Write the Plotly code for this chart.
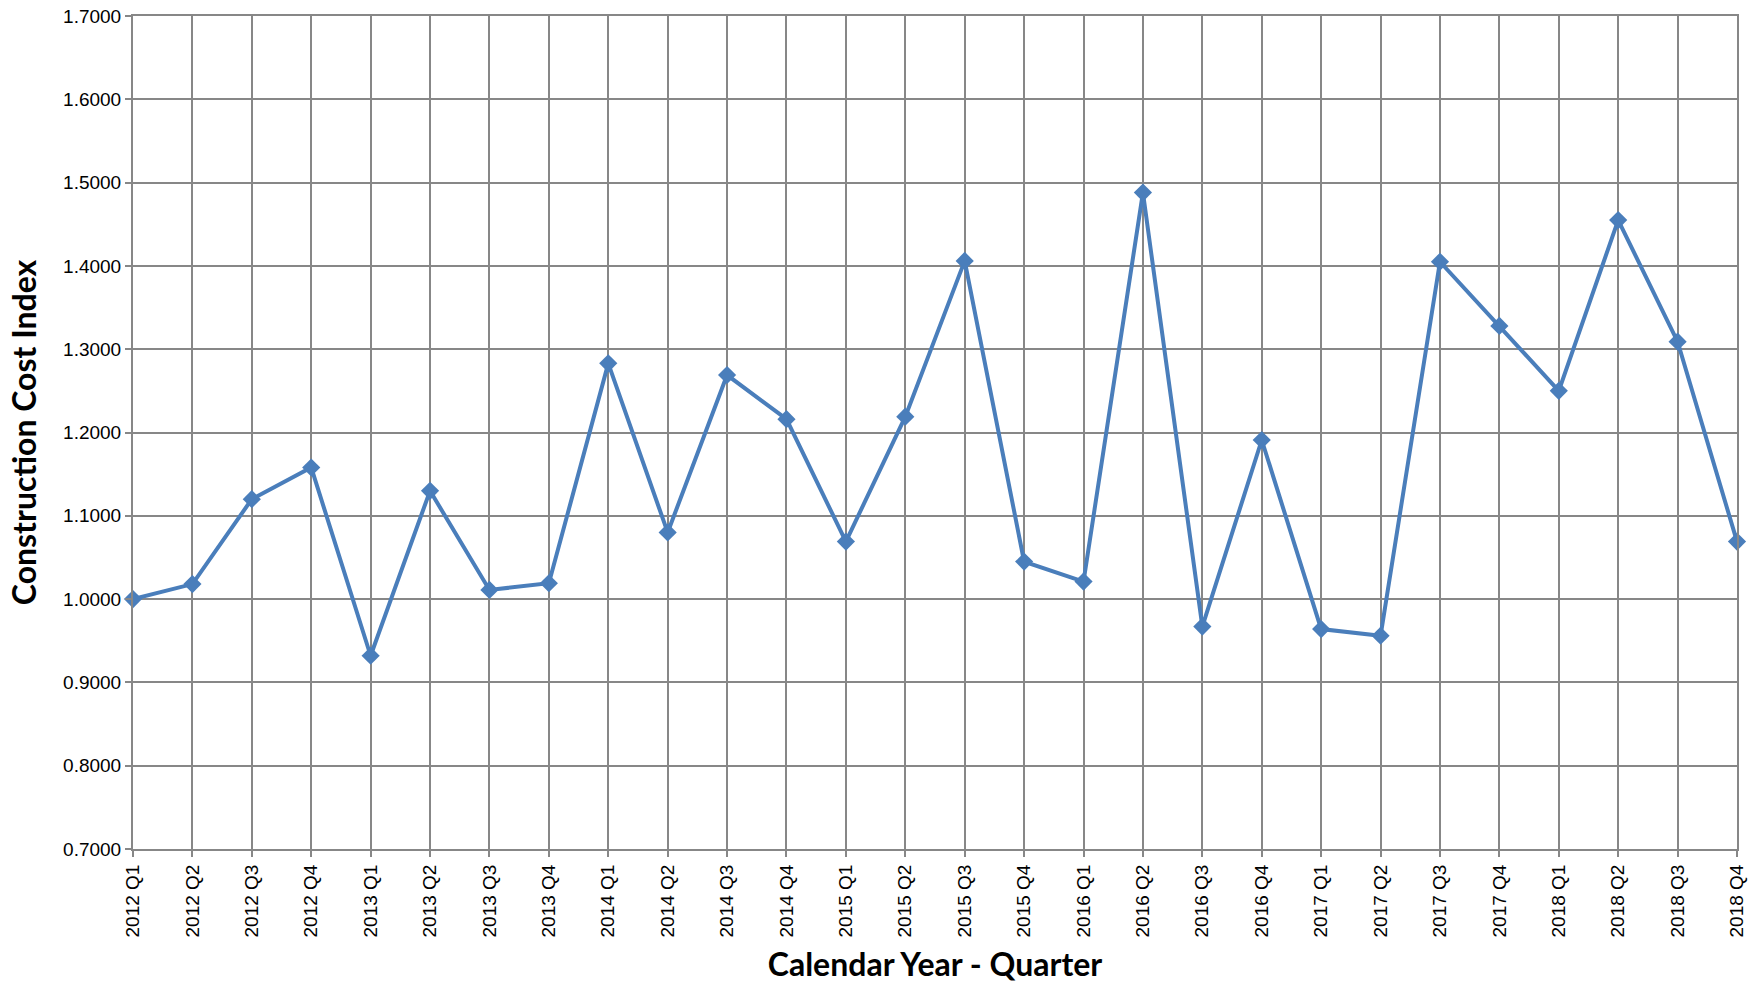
import plotly.graph_objects as go

quarters = ["2012 Q1", "2012 Q2", "2012 Q3", "2012 Q4",
            "2013 Q1", "2013 Q2", "2013 Q3", "2013 Q4",
            "2014 Q1", "2014 Q2", "2014 Q3", "2014 Q4",
            "2015 Q1", "2015 Q2", "2015 Q3", "2015 Q4",
            "2016 Q1", "2016 Q2", "2016 Q3", "2016 Q4",
            "2017 Q1", "2017 Q2", "2017 Q3", "2017 Q4",
            "2018 Q1", "2018 Q2", "2018 Q3", "2018 Q4"]
index_values = [1.000, 1.018, 1.120, 1.158,
                0.932, 1.130, 1.011, 1.019,
                1.283, 1.080, 1.269, 1.216,
                1.069, 1.219, 1.406, 1.045,
                1.021, 1.488, 0.967, 1.191,
                0.964, 0.956, 1.405, 1.328,
                1.250, 1.455, 1.309, 1.069]
y_ticks = [0.7, 0.8, 0.9, 1.0, 1.1, 1.2, 1.3, 1.4, 1.5, 1.6, 1.7]

grid = "#878787"
fig = go.Figure()
fig.add_trace(go.Scatter(
    x=quarters, y=index_values, mode="lines+markers",
    line=dict(color="#4A7EBB", width=4),
    marker=dict(symbol="diamond", size=14, color="#4A7EBB"),
    showlegend=False, cliponaxis=False,
))
fig.update_layout(
    width=1759, height=984,
    paper_bgcolor="white", plot_bgcolor="white",
    margin=dict(l=133, r=22, t=16, b=135),
    font=dict(family="Liberation Sans, Arial, sans-serif", color="#000000", size=19),
)
fig.update_xaxes(
    type="category", range=[0, len(quarters) - 1], automargin=False,
    showgrid=True, gridcolor=grid, gridwidth=1.5,
    showline=True, linecolor=grid, linewidth=2, mirror=True,
    ticks="outside", ticklen=6, tickcolor=grid, tickwidth=2,
    tickangle=-90, tickfont=dict(size=19, color="#000000"),
    ticklabeloverflow="allow",
    title=dict(text="<b>Calendar Year - Quarter</b>",
               font=dict(family="Lato, Open Sans, sans-serif", size=32, color="#000000"),
               standoff=17),
)
fig.update_yaxes(
    range=[0.7, 1.7], tickvals=y_ticks, tickformat=".4f", automargin=False,
    showgrid=True, gridcolor=grid, gridwidth=1.5,
    showline=True, linecolor=grid, linewidth=2, mirror=True,
    ticks="outside", ticklen=6, tickcolor=grid, tickwidth=2,
    tickfont=dict(size=19, color="#000000"), zeroline=False,
    ticklabeloverflow="allow",
    title=dict(text="<b>Construction Cost Index</b>",
               font=dict(family="Lato, Open Sans, sans-serif", size=32, color="#000000"),
               standoff=17),
)
fig.write_html("out.html", config={"displayModeBar": False},
               post_script="document.body.style.margin='0';document.body.style.overflow='hidden';")
